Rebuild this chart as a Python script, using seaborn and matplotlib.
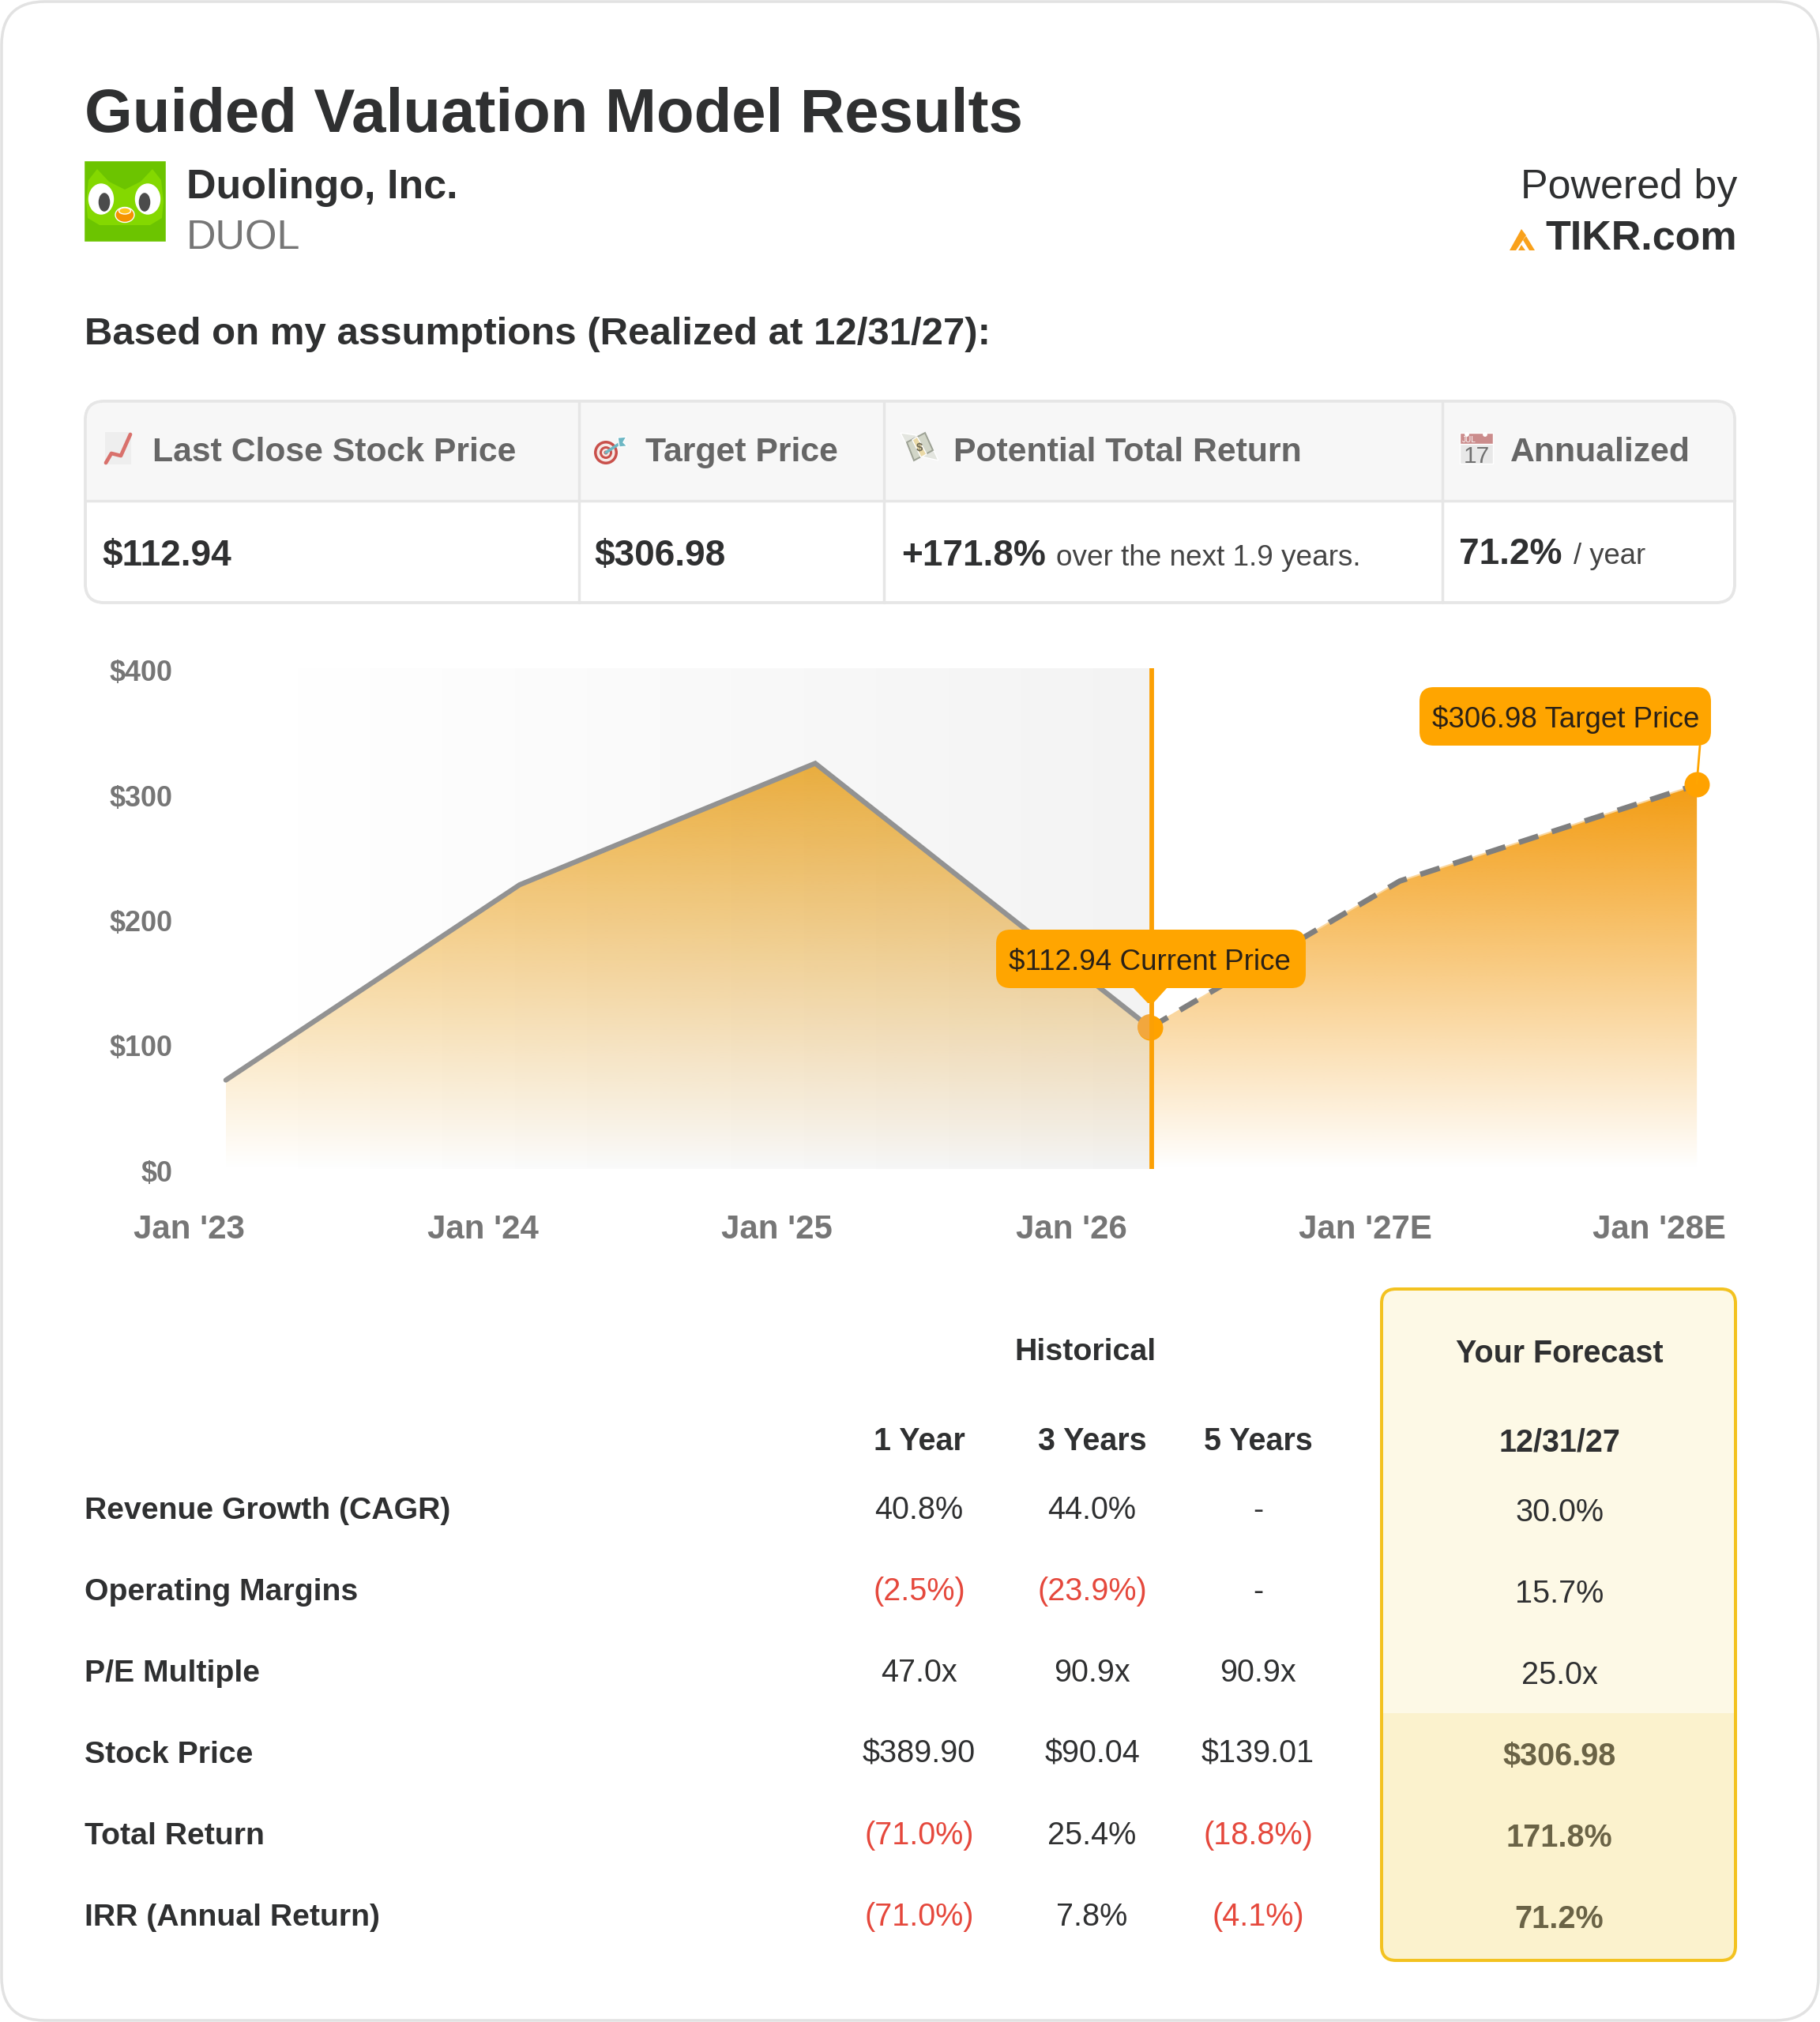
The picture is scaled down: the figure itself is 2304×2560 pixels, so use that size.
import numpy as np
import pandas as pd
import seaborn as sns
import matplotlib.pyplot as plt
from matplotlib.colors import to_rgb
from matplotlib.patches import FancyBboxPatch, Rectangle, Ellipse, Circle, Polygon, Wedge
from matplotlib.transforms import ScaledTranslation

# Chart values
hist_years = [2023.126, 2024.125, 2025.13, 2026.269]
hist_prices = [71, 227, 324, 112.94]
fcst_years = [2026.269, 2027.118, 2028.128]
fcst_prices = [112.94, 230, 306.98]
x_ticks = [2023, 2024, 2025, 2026, 2027, 2028]
x_labels = ["Jan '23", "Jan '24", "Jan '25", "Jan '26", "Jan '27E", "Jan '28E"]
y_ticks = [0, 100, 200, 300, 400]
y_labels = ['$0', '$100', '$200', '$300', '$400']

# Top table
head_labels = ['Last Close Stock Price', 'Target Price', 'Potential Total Return', 'Annualized']
last_close = '$112.94'
target = '$306.98'
total_return = '+171.8%'
return_note = 'over the next 1.9 years.'
annualized = '71.2%'
annualized_note = '/ year'

# Bottom table
row_labels = ['Revenue Growth (CAGR)', 'Operating Margins', 'P/E Multiple', 'Stock Price', 'Total Return',
              'IRR (Annual Return)']
hist_cols = ['1 Year', '3 Years', '5 Years']
one_year = ['40.8%', '(2.5%)', '47.0x', '$389.90', '(71.0%)', '(71.0%)']
three_years = ['44.0%', '(23.9%)', '90.9x', '$90.04', '25.4%', '7.8%']
five_years = ['-', '-', '90.9x', '$139.01', '(18.8%)', '(4.1%)']
forecast = ['30.0%', '15.7%', '25.0x', '$306.98', '171.8%', '71.2%']

DARK = '#2f3031'
GRAY = '#767676'
ORANGE = '#FFA500'

sns.set_theme(style='white')
plt.rcParams['font.family'] = ['Liberation Sans', 'DejaVu Sans']

fig = plt.figure(figsize=(23.04, 25.6), dpi=100)

# Layout layer in image pixels
bg = fig.add_axes([0, 0, 1, 1], zorder=0)
bg.set_xlim(0, 2304)
bg.set_ylim(2560, 0)
bg.axis('off')


def put(x, y, s, px, color=DARK, weight='normal', ha='left', ax=None, zorder=5):
    (ax or bg).text(x, y, s, fontsize=px * 0.72, color=color, fontweight=weight, ha=ha, va='baseline',
                    transform=bg.transData, zorder=zorder, clip_on=False)


def round_box(x0, y0, x1, y1, radius, fc, ec='none', lw=0, zorder=1):
    box = FancyBboxPatch((x0, y0), x1 - x0, y1 - y0, boxstyle=f'round,pad=0,rounding_size={radius}',
                         fc=fc, ec=ec, lw=lw * 0.72, zorder=zorder)
    bg.add_patch(box)
    return box


# Card
round_box(2, 2, 2302, 2558, 55, 'white', '#E2E2E2', 3.5)

# Header
put(107, 167, 'Guided Valuation Model Results', 78, weight='bold')
put(236, 251, 'Duolingo, Inc.', 52, weight='bold')
put(236, 315, 'DUOL', 52, color=GRAY)
put(2199, 251, 'Powered by', 52, ha='right')
put(2199, 315, 'TIKR.com', 52, weight='bold', ha='right')
put(107, 436, 'Based on my assumptions (Realized at 12/31/27):', 49.1, weight='bold')

# Owl logo
bg.add_patch(Rectangle((106, 203), 104, 103, fc='#6CC400', zorder=2))
bg.add_patch(Polygon([(109, 255), (112, 228), (123, 214), (138, 230), (158, 240), (178, 230), (193, 214), (204, 228),
                      (207, 255), (205, 276), (190, 285), (126, 285), (111, 276)],
                     fc='#84D800', ec='none', zorder=2.5))
for cx, px_ in ((128, 132), (187, 183)):
    bg.add_patch(Ellipse((cx, 252), 31, 38, fc='white', zorder=3))
    bg.add_patch(Ellipse((px_, 256), 16, 25, fc='#4B4B4B', zorder=4))
bg.add_patch(Ellipse((158, 272), 24, 19, fc='#F59300', zorder=4))
bg.add_patch(Ellipse((158, 267), 15, 8, fc='#FFC21C', zorder=4))

# TIKR logo
for pts in ([(1911, 317), (1926, 290), (1932, 298), (1919, 317)],
            [(1928, 304), (1932, 299), (1943, 317), (1936, 317)],
            [(1922, 317), (1926, 310), (1931, 317)]):
    bg.add_patch(Polygon(pts, fc='#F9A11B', ec='none', zorder=3))

# Top table
table_box = round_box(108, 508, 2196, 763, 24, 'white', '#E6E6E6', 3.5, zorder=2)
head = Rectangle((108, 508), 2088, 126, fc='#F7F7F7', ec='none', zorder=2.1)
bg.add_patch(head)
head.set_clip_path(table_box)
bg.plot([108, 2196], [634, 634], color='#E6E6E6', lw=2.5, zorder=3)
for x in [733, 1119, 1825.5]:
    bg.plot([x, x], [508, 763], color='#E6E6E6', lw=2.5, zorder=3)
round_box(108, 508, 2196, 763, 24, 'none', '#E6E6E6', 3.5, zorder=3.1)
for x, s in zip([193, 817, 1207, 1912], head_labels):
    put(x, 584, s, 42.8, color='#666666', weight='bold')
put(129, 716, last_close, 46, weight='bold')
put(752, 716, target, 46, weight='bold')
put(1141, 716, total_return, 46, weight='bold')
put(1337, 716, return_note, 36.9, color='#444444')
put(1847, 714, annualized, 46, weight='bold')
put(1992, 714, annualized_note, 36.5, color='#444444')

# Emoji style icons
bg.add_patch(Rectangle((133, 547), 33, 41, fc='#EEEEEE', ec='none', zorder=4))
bg.plot([134, 141, 153, 165], [586, 574, 577, 550], color='#D9716C', lw=3.4, zorder=5)

for r, c in zip([15, 11.5, 8, 5, 2.5], ['#C9504B', '#F6E9E6', '#C9504B', '#F6E9E6', '#C9504B']):
    bg.add_patch(Circle((767, 573), r, fc=c, ec='none', zorder=4))
bg.plot([767, 785], [573, 561], color='#6DB7C4', lw=2.6, zorder=5)
bg.add_patch(Polygon([(782, 554), (793, 553), (789, 560), (794, 565), (784, 566)], fc='#6DB7C4', zorder=5))

bg.add_patch(Polygon([(1140, 548), (1160, 551), (1155, 565), (1146, 560)], fc='#E3E5DF', zorder=4))
bg.add_patch(Polygon([(1188, 583), (1166, 578), (1176, 566), (1183, 572)], fc='#E3E5DF', zorder=4))
bg.add_patch(Polygon([(1148, 560), (1171, 548), (1181, 570), (1157, 583)], fc='#D2D6C8', ec='#9CA194', lw=1.4, zorder=4))
bg.add_patch(Polygon([(1155, 557), (1161, 553), (1173, 575), (1166, 579)], fc='#EAD9A6', zorder=5))
put(1164, 571, '$', 15, color='#6E6A55', weight='bold', ha='center', zorder=6)

bg.add_patch(Rectangle((1848, 562), 42, 25, fc='#E8E8E8', zorder=4))
bg.add_patch(Rectangle((1848, 548), 42, 14, fc='#CB8C8C', zorder=4))
for x in [1857, 1880]:
    bg.add_patch(Circle((x, 550), 2.2, fc='white', zorder=5))
put(1851, 560, 'JUL', 10, color='white', zorder=6)
put(1869, 586, '17', 30, color='#707070', ha='center', zorder=6)

# Chart
px_left, px_right, px_top, px_bottom = 230, 2200, 846, 1480
ax = fig.add_axes([px_left / 2304, 1 - px_bottom / 2560, (px_right - px_left) / 2304, (px_bottom - px_top) / 2560],
                  zorder=1)
ax.patch.set_alpha(0)
x_lim = (2023 + (px_left - 239) / 372.3, 2023 + (px_right - 239) / 372.3)
y_lim = (0, 400)


def gradient_fill(years, prices, color, top_alpha):
    # vertical fade clipped to the area under the line
    top = max(prices)
    rgba = np.ones((256, 1, 4))
    rgba[..., :3] = to_rgb(color)
    rgba[:, 0, 3] = np.linspace(top_alpha, 0, 256)
    img = ax.imshow(rgba, extent=[years[0], years[-1], 0, top], origin='upper', aspect='auto', zorder=1,
                    interpolation='bilinear')
    poly = Polygon(list(zip(years, prices)) + [(years[-1], 0), (years[0], 0)], transform=ax.transData, fc='none',
                   ec='none')
    ax.add_patch(poly)
    img.set_clip_path(poly)


gradient_fill(hist_years, hist_prices, '#F0AC30', 0.92)
gradient_fill(fcst_years, fcst_prices, '#F39C12', 1.0)

# Grey history band
band = np.zeros((1, 256, 4))
band[..., 3] = np.linspace(0, 0.05, 256)
ax.imshow(band, extent=[hist_years[0], hist_years[-1], 0, 400], origin='upper', aspect='auto', zorder=2)

hist_df = pd.DataFrame({'year': hist_years, 'price': hist_prices})
fcst_df = pd.DataFrame({'year': fcst_years, 'price': fcst_prices})
sns.lineplot(data=hist_df, x='year', y='price', ax=ax, color='#929292', linewidth=4.6, errorbar=None, zorder=3,
             solid_capstyle='round', solid_joinstyle='miter')
sns.lineplot(data=fcst_df, x='year', y='price', ax=ax, color='#FAD79F', linewidth=1.5, errorbar=None, zorder=3)
sns.lineplot(data=fcst_df, x='year', y='price', ax=ax, color='#7F7F7F', linewidth=5, errorbar=None, zorder=3.1,
             linestyle=(0, (3.7, 2.6)), dash_capstyle='butt')

marker_df = pd.DataFrame({'year': [hist_years[-1], fcst_years[-1]], 'price': [hist_prices[-1], fcst_prices[-1]]})
sns.scatterplot(data=marker_df, x='year', y='price', ax=ax, color='#FFA200', s=(32 * 0.72) ** 2, linewidth=0,
                zorder=4, clip_on=False)
# left half of the current price dot sits under the band
half = Wedge((1456, 1300), 16, 90, 270, fc='#F2A73D', ec='none', transform=bg.transData, zorder=4.1)
ax.add_patch(half)
half.set_clip_on(False)
ax.axvline(hist_years[-1] + 0.004, color='#FCA004', lw=4.2, zorder=4.2)

ax.set_xlim(x_lim)
ax.set_ylim(y_lim)
ax.set_xticks(x_ticks)
ax.set_xticklabels(x_labels, fontsize=42 * 0.72, fontweight='bold', color=GRAY)
ax.set_yticks(y_ticks)
ax.set_yticklabels(y_labels, fontsize=36 * 0.72, fontweight='bold', color=GRAY)
ax.tick_params(axis='x', length=0, pad=41)
ax.tick_params(axis='y', length=0, pad=8)
# y labels sit a touch below their gridline position in the original
for lab in ax.get_yticklabels():
    lab.set_transform(lab.get_transform() + ScaledTranslation(0, -2.5 / 100, fig.dpi_scale_trans))
ax.set_xlabel('')
ax.set_ylabel('')
sns.despine(ax=ax, left=True, bottom=True, top=True, right=True)


def tooltip(x0, y0, x1, y1, text, text_x, text_y):
    box = FancyBboxPatch((x0, y0), x1 - x0, y1 - y0, boxstyle='round,pad=0,rounding_size=18', fc=ORANGE, ec='none',
                         transform=bg.transData, zorder=6, clip_on=False)
    ax.add_patch(box)
    put(text_x, text_y, text, 36.8, color='#2a2117', ax=ax, zorder=7)


tooltip(1261, 1177, 1653, 1251, f'{last_close} Current Price', 1277, 1228)
ax.add_patch(Polygon([(1434, 1250), (1478, 1250), (1460, 1270), (1453, 1270)], fc=ORANGE, ec='none',
                     transform=bg.transData, zorder=6, clip_on=False))
tooltip(1797, 870, 2166, 944, f'{target} Target Price', 1813, 921)
ax.plot([2152, 2148], [944, 992], color=ORANGE, lw=2, transform=bg.transData, zorder=5, clip_on=False)

# Forecast panel
panel = round_box(1749, 1632, 2197, 2482, 18, '#FDF9E6', 'none', 0, zorder=1)
low = Rectangle((1749, 2169), 448, 313, fc='#FBF2CD', ec='none', zorder=1.1)
bg.add_patch(low)
low.set_clip_path(panel)
round_box(1749, 1632, 2197, 2482, 18, 'none', '#F3C220', 4, zorder=1.2)

# Bottom table
put(1374, 1722, 'Historical', 39.4, weight='bold', ha='center')
put(1974, 1725, 'Your Forecast', 39.5, weight='bold', ha='center')
for cx, s in zip([1164, 1382.5, 1593], hist_cols):
    put(cx, 1836, s, 39.5, weight='bold', ha='center')
put(1974, 1838, '12/31/27', 39.5, weight='bold', ha='center')

row_y = [1923, 2026, 2129, 2232, 2335, 2438]
for i, y in enumerate(row_y):
    put(107, y, row_labels[i], 39.3, weight='bold')
    for cx, col in zip([1163.5, 1382.5, 1592.5], [one_year, three_years, five_years]):
        color = '#E5483C' if col[i].startswith('(') else DARK
        put(cx, y, col[i], 39.6, color=color, ha='center')
    if i < 3:
        put(1974, y + 3, forecast[i], 39.6, ha='center')
    else:
        put(1974, y + 3, forecast[i], 39.6, color='#6A6346', weight='bold', ha='center')

fig.savefig('out.png', dpi=100, facecolor='white')
